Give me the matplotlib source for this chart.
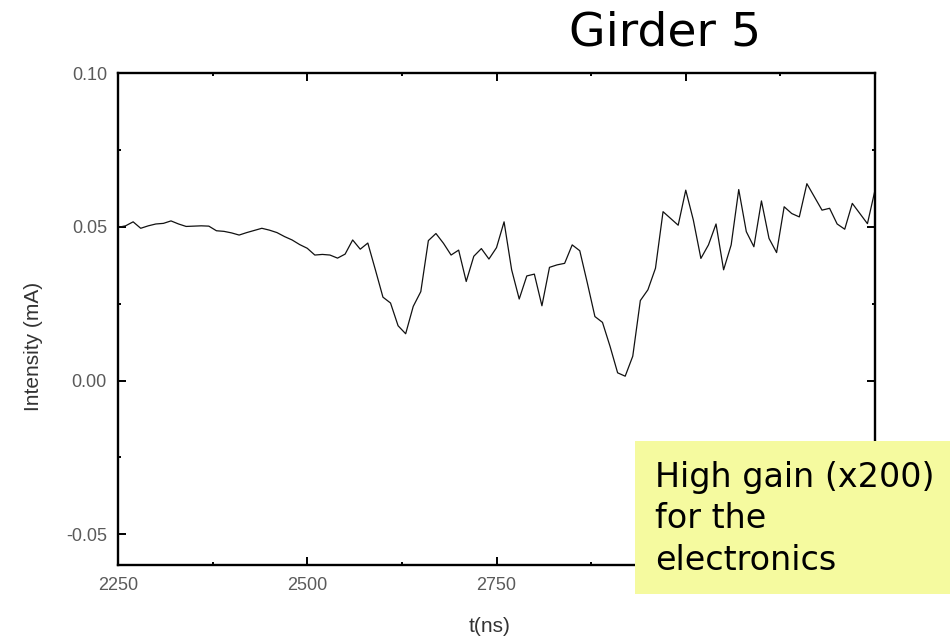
import numpy as np
import matplotlib.pyplot as plt
from matplotlib.patches import Rectangle
from matplotlib.ticker import MultipleLocator

# beam intensity on girder 5, sampled every 10 ns
t_ns = np.arange(2250, 3251, 10)
intensity = [
    0.0498, 0.0503, 0.0516, 0.0495, 0.0503, 0.0509, 0.0511, 0.0519, 0.0509, 0.0501,
    0.0502, 0.0503, 0.0502, 0.0487, 0.0485, 0.0480, 0.0473, 0.0481, 0.0488, 0.0495,
    0.0489, 0.0481, 0.0468, 0.0457, 0.0442, 0.0430, 0.0408, 0.0410, 0.0408, 0.0398,
    0.0411, 0.0457, 0.0427, 0.0447, 0.0360, 0.0271, 0.0252, 0.0178, 0.0152, 0.0241,
    0.0289, 0.0455, 0.0478, 0.0446, 0.0408, 0.0424, 0.0322, 0.0404, 0.0429, 0.0395,
    0.0432, 0.0516, 0.0360, 0.0265, 0.0340, 0.0346, 0.0243, 0.0368, 0.0376, 0.0381,
    0.0441, 0.0422, 0.0317, 0.0208, 0.0189, 0.0111, 0.0025, 0.0014, 0.0079, 0.0260,
    0.0295, 0.0365, 0.0549, 0.0527, 0.0505, 0.0619, 0.0522, 0.0397, 0.0441, 0.0509,
    0.0360, 0.0441, 0.0621, 0.0484, 0.0435, 0.0584, 0.0462, 0.0416, 0.0565, 0.0543,
    0.0532, 0.0640, 0.0597, 0.0554, 0.0560, 0.0509, 0.0492, 0.0576, 0.0543, 0.0510,
    0.0619,
]
x_ticks = [2250, 2500, 2750, 3000, 3250]
y_ticks = [-0.05, 0.00, 0.05, 0.10]

W, H = 950, 639
fig = plt.figure(figsize=(9.5, 6.39), dpi=100)
ax = fig.add_axes([118 / W, 1 - 565 / H, 757 / W, 492 / H])

ax.plot(t_ns, intensity, color="#111111", linewidth=0.9)
ax.set_xlim(2250, 3250)
ax.set_ylim(-0.06, 0.10)

ax.set_xticks(x_ticks)
ax.set_yticks(y_ticks)
ax.xaxis.set_minor_locator(MultipleLocator(125))
ax.yaxis.set_minor_locator(MultipleLocator(0.025))
ax.set_yticklabels(["-0.05", "0.00", "0.05", "0.10"])

for side in ax.spines.values():
    side.set_linewidth(1.7)
ax.tick_params(which="both", direction="in", top=True, right=True, width=1.4,
               labelcolor="#5a5a5a", labelsize=13)
ax.tick_params(which="major", length=6)
ax.tick_params(which="minor", length=2.5)
ax.tick_params(axis="x", pad=9)
ax.tick_params(axis="y", pad=8)
for lab in ax.get_xticklabels() + ax.get_yticklabels():
    lab.set_family("Liberation Sans")

ax.set_xlabel("t(ns)", fontsize=15, color="#333333", family="Liberation Sans")
ax.set_ylabel("Intensity (mA)", fontsize=15, color="#333333", family="Liberation Sans")
ax.xaxis.set_label_coords(0.491, -0.126)
ax.xaxis.label.set_verticalalignment("center")
ax.yaxis.set_label_coords(-0.112, 0.445)
ax.yaxis.label.set_verticalalignment("center")

fig.text(665 / W, 1 - 33 / H, "Girder 5", fontsize=34, ha="center", va="center",
         family="DejaVu Sans")

# yellow note box on top of the lower right corner
fig.patches.append(Rectangle((635 / W, 1 - 594 / H), 315 / W, 153 / H,
                             transform=fig.transFigure, facecolor="#f5fa9f",
                             edgecolor="none", zorder=5))
fig.text(655 / W, 1 - 519 / H, "High gain (x200)\nfor the\nelectronics",
         fontsize=24, ha="left", va="center", linespacing=1.32,
         family="DejaVu Sans", zorder=6)

fig.savefig("out.png", dpi=100)
